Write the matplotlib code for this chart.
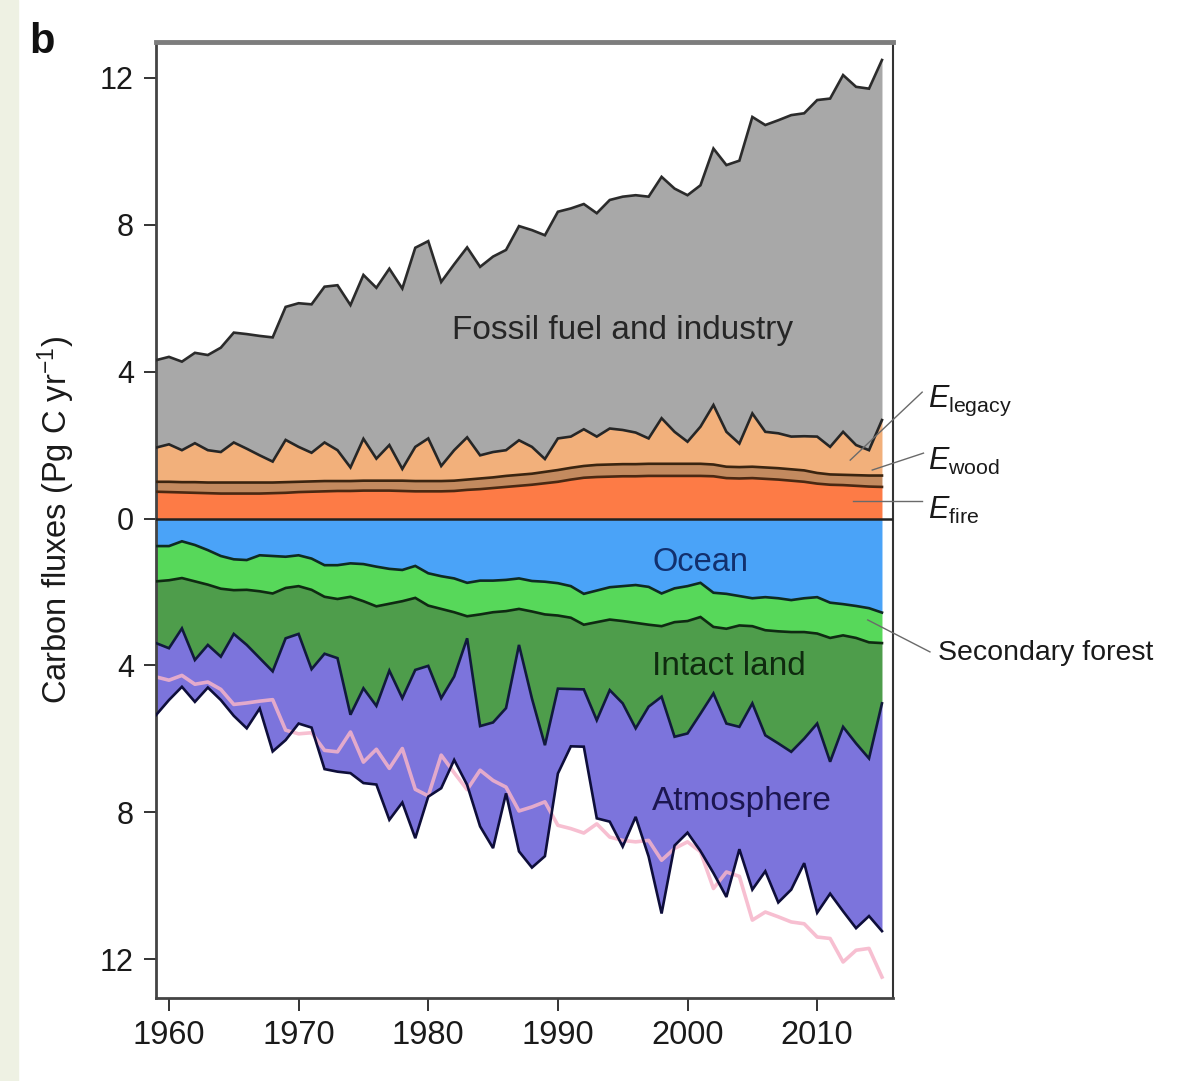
import numpy as np
import matplotlib
matplotlib.use('Agg')
import matplotlib.pyplot as plt
from matplotlib.patches import Rectangle

plt.rcParams['font.family'] = ['Liberation Sans', 'DejaVu Sans']
plt.rcParams['mathtext.fontset'] = 'custom'
plt.rcParams['mathtext.rm'] = 'Liberation Sans'
plt.rcParams['mathtext.it'] = 'Liberation Sans:italic'

years = np.arange(1959, 2016)

# sources (Pg C / yr), stacked upwards from zero: fire, wood, legacy, fossil
e_fire = [0.73,
          0.72, 0.71, 0.70, 0.69, 0.68, 0.68, 0.68, 0.68, 0.69, 0.70,
          0.72, 0.73, 0.74, 0.75, 0.75, 0.76, 0.76, 0.76, 0.75, 0.74,
          0.74, 0.74, 0.75, 0.78, 0.80, 0.83, 0.86, 0.89, 0.92, 0.96,
          1.00, 1.06, 1.11, 1.13, 1.14, 1.15, 1.15, 1.16, 1.16, 1.16,
          1.16, 1.16, 1.15, 1.10, 1.09, 1.10, 1.08, 1.06, 1.03, 1.00,
          0.95, 0.92, 0.91, 0.89, 0.87, 0.86]
e_wood = [0.27,
          0.28, 0.28, 0.29, 0.29, 0.30, 0.30, 0.30, 0.30, 0.29, 0.29,
          0.28, 0.28, 0.28, 0.27, 0.27, 0.27, 0.27, 0.27, 0.28, 0.28,
          0.28, 0.28, 0.28, 0.28, 0.29, 0.29, 0.30, 0.30, 0.30, 0.31,
          0.32, 0.32, 0.32, 0.33, 0.33, 0.33, 0.33, 0.33, 0.33, 0.33,
          0.33, 0.33, 0.32, 0.31, 0.31, 0.31, 0.31, 0.31, 0.31, 0.31,
          0.29, 0.28, 0.28, 0.29, 0.30, 0.31]
e_legacy = [0.93,
            1.02, 0.87, 1.06, 0.88, 0.83, 1.09, 0.92, 0.74, 0.57, 1.15,
            0.95, 0.78, 1.05, 0.84, 0.37, 1.14, 0.60, 0.97, 0.32, 0.93,
            1.16, 0.41, 0.83, 1.15, 0.63, 0.69, 0.70, 0.94, 0.73, 0.35,
            0.86, 0.85, 1.00, 0.77, 0.98, 0.93, 0.86, 0.69, 1.24, 0.87,
            0.60, 1.01, 1.62, 0.95, 0.64, 1.45, 0.97, 0.95, 0.89, 0.93,
            0.99, 0.75, 1.17, 0.82, 0.69, 1.51]
fossil = [2.38,
          2.38, 2.41, 2.46, 2.59, 2.84, 2.99, 3.12, 3.25, 3.38, 3.62,
          3.91, 4.04, 4.24, 4.49, 4.42, 4.46, 4.65, 4.80, 4.91, 5.42,
          5.37, 5.01, 5.06, 5.17, 5.13, 5.32, 5.45, 5.83, 5.90, 6.09,
          6.17, 6.21, 6.13, 6.08, 6.22, 6.35, 6.46, 6.58, 6.57, 6.62,
          6.71, 6.57, 6.98, 7.26, 7.70, 8.07, 8.35, 8.52, 8.75, 8.79,
          9.16, 9.48, 9.71, 9.75, 9.84, 9.80]

# sinks (Pg C / yr), stacked downwards from zero: ocean, secondary forest, intact land, atmosphere
ocean = [0.75,
         0.75, 0.62, 0.72, 0.86, 1.02, 1.11, 1.13, 1.00, 1.02, 1.04,
         1.00, 1.09, 1.27, 1.27, 1.22, 1.24, 1.31, 1.37, 1.40, 1.29,
         1.49, 1.57, 1.63, 1.75, 1.69, 1.69, 1.67, 1.63, 1.70, 1.72,
         1.76, 1.84, 2.05, 1.96, 1.87, 1.84, 1.81, 1.86, 2.04, 1.90,
         1.84, 1.75, 2.02, 2.05, 2.11, 2.17, 2.14, 2.17, 2.22, 2.17,
         2.14, 2.29, 2.33, 2.38, 2.44, 2.56]
secondary = [0.96,
             0.93, 1.00, 0.99, 0.94, 0.89, 0.84, 0.81, 0.98, 1.02, 0.85,
             0.84, 0.85, 0.86, 0.92, 0.91, 1.01, 1.08, 0.95, 0.85, 0.87,
             0.88, 0.89, 0.92, 0.91, 0.92, 0.86, 0.85, 0.83, 0.83, 0.89,
             0.88, 0.86, 0.84, 0.86, 0.88, 0.95, 1.03, 1.03, 0.89, 0.92,
             0.95, 0.93, 0.93, 0.95, 0.80, 0.76, 0.90, 0.90, 0.87, 0.92,
             0.99, 0.96, 0.85, 0.87, 0.93, 0.83]
intact = [1.68,
          1.85, 1.37, 2.14, 1.64, 1.85, 1.19, 1.50, 1.82, 2.12, 1.37,
          1.30, 2.16, 1.55, 1.61, 3.21, 2.37, 2.71, 1.82, 2.64, 1.96,
          1.64, 2.43, 1.75, 0.60, 3.04, 3.00, 2.64, 0.98, 2.37, 3.56,
          1.99, 1.94, 1.76, 2.67, 1.92, 2.24, 2.87, 2.23, 1.92, 3.12,
          3.06, 2.63, 1.81, 2.58, 2.76, 2.10, 2.86, 3.05, 3.26, 2.90,
          2.45, 3.37, 2.49, 2.87, 3.16, 1.64]
atmosphere = [1.96,
              1.41, 1.59, 1.14, 1.16, 1.18, 2.23, 2.27, 1.37, 2.18, 2.77,
              2.44, 1.59, 3.14, 3.09, 1.59, 2.58, 2.14, 4.06, 2.84, 4.58,
              3.56, 2.45, 2.27, 3.99, 2.73, 3.42, 2.32, 5.62, 4.60, 3.02,
              2.31, 1.56, 1.56, 2.67, 3.58, 3.90, 2.41, 4.08, 5.90, 2.96,
              2.70, 3.74, 4.89, 4.72, 3.33, 5.07, 3.70, 4.33, 3.75, 3.39,
              5.15, 3.59, 5.02, 5.03, 4.29, 6.20]

sources = [(e_fire, '#fd7b46', '#4a2812'),
           (e_wood, '#c38a5f', '#3a2410'),
           (e_legacy, '#f2b07b', '#262626'),
           (fossil, '#a8a8a8', '#2b2b2b')]
sinks = [(ocean, '#4aa3f8', '#0f2a22'),
         (secondary, '#57d85a', '#0f2a12'),
         (intact, '#4e9d4b', '#111a3c'),
         (atmosphere, '#7c74dc', '#0e0e3a')]

fig = plt.figure(figsize=(11.78, 10.81), dpi=100)
fig.patches.append(Rectangle((0, 0), 18 / 1178, 1, transform=fig.transFigure,
                             color='#eef1e3', zorder=0))
ax = fig.add_axes([156 / 1178, 1 - 998 / 1081, 737 / 1178, 956 / 1081])

# filled layers first, outlines afterwards so nothing covers them
edges = []
base = np.zeros(len(years))
for vals, fc, lc in sources:
    top = base + np.array(vals)
    ax.fill_between(years, base, top, color=fc, lw=0, zorder=1)
    edges.append((top, lc))
    base = top
total = base

base = np.zeros(len(years))
for vals, fc, lc in sinks:
    bot = base - np.array(vals)
    ax.fill_between(years, bot, base, color=fc, lw=0, zorder=1)
    edges.append((bot, lc))
    base = bot

# total emissions mirrored below zero
ax.plot(years, -total, color='#f6b4c9', lw=2.6, alpha=0.85, zorder=2)

for y, lc in edges:
    ax.plot(years, y, color=lc, lw=1.9, zorder=3, solid_joinstyle='miter')
ax.axhline(0, color='#222222', lw=1.8, zorder=4)

ax.set_xlim(1959, 2015.85)
ax.set_ylim(-13.05, 12.97)
ax.set_xticks([1960, 1970, 1980, 1990, 2000, 2010])
ax.set_yticks([-12, -8, -4, 0, 4, 8, 12])
ax.set_yticklabels(['12', '8', '4', '0', '4', '8', '12'])
ax.tick_params(direction='out', length=9, width=1.4, labelsize=22, pad=7,
               color='#333333', labelcolor='#1a1a1a')
ax.tick_params(axis='x', labelsize=23.5)
ax.set_ylabel(r'Carbon fluxes (Pg C yr$^{-1}$)', fontsize=23.5, color='#1a1a1a')
ax.yaxis.set_label_coords(-0.107, 0.5)

for side, col, lw in [('top', '#7d7d7d', 3.5), ('left', '#444444', 2.0),
                      ('right', '#333333', 1.5), ('bottom', '#444444', 2.0)]:
    ax.spines[side].set_color(col)
    ax.spines[side].set_linewidth(lw)

# in-panel labels
ax.text(1994.96, 5.13, 'Fossil fuel and industry', fontsize=24,
        color='#262626', ha='center', va='center', zorder=5)
ax.text(2000.97, -1.21, 'Ocean', fontsize=23.5, color='#12306e',
        ha='center', va='center', zorder=5)
ax.text(2003.2, -4.04, 'Intact land', fontsize=24, color='#0f2a0f',
        ha='center', va='center', zorder=5)
ax.text(2004.2, -7.7, 'Atmosphere', fontsize=24, color='#1c1650',
        ha='center', va='center', zorder=5)

# labels to the right of the panel with leader lines
lead = dict(color='#6a6a6a', lw=1.0, clip_on=False, zorder=5)
ax.plot([2012.55, 2018.1], [1.59, 3.44], **lead)
ax.plot([2014.25, 2018.2], [1.32, 1.78], **lead)
ax.plot([2012.8, 2018.1], [0.48, 0.48], **lead)
ax.plot([2013.9, 2018.7], [-2.76, -3.63], **lead)

ax.text(2018.57, 3.03, r'$\mathit{E}_{\mathrm{legacy}}$', fontsize=22,
        color='#1a1a1a', va='baseline', ha='left')
ax.text(2018.57, 1.32, r'$\mathit{E}_{\mathrm{wood}}$', fontsize=22,
        color='#1a1a1a', va='baseline', ha='left')
ax.text(2018.57, -0.01, r'$\mathit{E}_{\mathrm{fire}}$', fontsize=22,
        color='#1a1a1a', va='baseline', ha='left')
ax.text(2019.3, -3.66, 'Secondary forest', fontsize=20.5, color='#1a1a1a',
        va='center', ha='left')

fig.text(0.025, 0.98, 'b', fontsize=30, fontweight='bold', va='top',
         ha='left', color='#111111')

fig.savefig('out.png', dpi=100)
